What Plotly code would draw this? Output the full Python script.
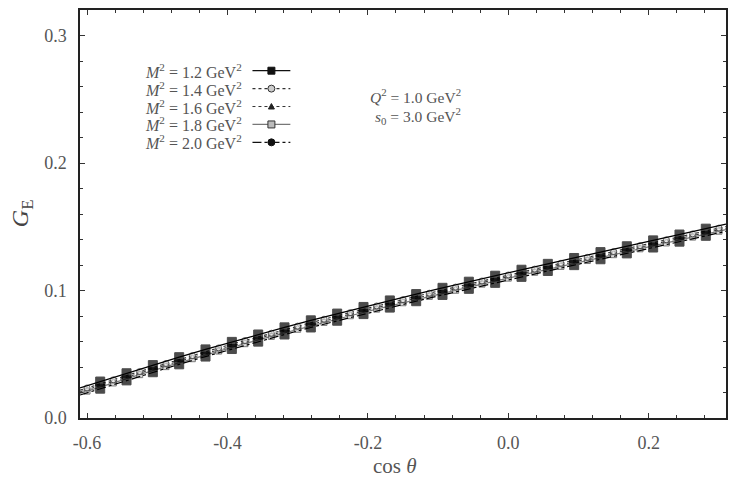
import plotly.graph_objects as go

# ---------------- data ----------------
labels = ["<i>M</i><sup>2</sup> = 1.2 GeV<sup>2</sup>",
          "<i>M</i><sup>2</sup> = 1.4 GeV<sup>2</sup>",
          "<i>M</i><sup>2</sup> = 1.6 GeV<sup>2</sup>",
          "<i>M</i><sup>2</sup> = 1.8 GeV<sup>2</sup>",
          "<i>M</i><sup>2</sup> = 2.0 GeV<sup>2</sup>"]

# cos(theta) sample points (series with black markers)
cos_a = [-0.61, -0.58125, -0.54375, -0.50625, -0.46875, -0.43125, -0.39375, -0.35625,
         -0.31875, -0.28125, -0.24375, -0.20625, -0.16875, -0.13125, -0.09375, -0.05625,
         -0.01875, 0.01875, 0.05625, 0.09375, 0.13125, 0.16875, 0.20625, 0.24375, 0.28125, 0.31]
# cos(theta) sample points (series with light markers)
cos_b = [-0.61, -0.6, -0.5625, -0.525, -0.4875, -0.45, -0.4125, -0.375, -0.3375, -0.3,
         -0.2625, -0.225, -0.1875, -0.15, -0.1125, -0.075, -0.0375, 0.0, 0.0375, 0.075,
         0.1125, 0.15, 0.1875, 0.225, 0.2625, 0.3, 0.31]

ge_12 = [0.0236, 0.0286, 0.0351, 0.0415, 0.0477, 0.0538, 0.0597, 0.0655, 0.0711, 0.0766,
         0.0819, 0.0871, 0.0922, 0.0972, 0.1021, 0.1069, 0.1116, 0.1163, 0.1209, 0.1255,
         0.1301, 0.1347, 0.1393, 0.1439, 0.1485, 0.1520]
ge_20 = [0.0180, 0.0230, 0.0295, 0.0359, 0.0421, 0.0482, 0.0541, 0.0599, 0.0655, 0.0710,
         0.0763, 0.0815, 0.0866, 0.0916, 0.0965, 0.1013, 0.1060, 0.1107, 0.1153, 0.1199,
         0.1245, 0.1291, 0.1337, 0.1383, 0.1429, 0.1464]
ge_14 = [0.0218, 0.0236, 0.0300, 0.0365, 0.0428, 0.0490, 0.0550, 0.0608, 0.0665, 0.0721,
         0.0775, 0.0827, 0.0879, 0.0929, 0.0979, 0.1027, 0.1075, 0.1122, 0.1168, 0.1214,
         0.1260, 0.1306, 0.1352, 0.1398, 0.1444, 0.1490, 0.1502]
ge_16 = [0.0205, 0.0223, 0.0287, 0.0352, 0.0415, 0.0477, 0.0537, 0.0595, 0.0652, 0.0708,
         0.0762, 0.0814, 0.0866, 0.0916, 0.0966, 0.1014, 0.1062, 0.1109, 0.1155, 0.1201,
         0.1247, 0.1293, 0.1339, 0.1385, 0.1431, 0.1477, 0.1489]
ge_18 = [0.0193, 0.0211, 0.0275, 0.0340, 0.0403, 0.0465, 0.0525, 0.0583, 0.0640, 0.0696,
         0.0750, 0.0802, 0.0854, 0.0904, 0.0954, 0.1002, 0.1050, 0.1097, 0.1143, 0.1189,
         0.1235, 0.1281, 0.1327, 0.1373, 0.1419, 0.1465, 0.1477]

x_ticks = [-0.6, -0.4, -0.2, 0.0, 0.2]
x_ticktext = ["-0.6", "-0.4", "-0.2", "0.0", "0.2"]
y_ticks = [0.0, 0.1, 0.2, 0.3]
y_ticktext = ["0.0", "0.1", "0.2", "0.3"]

# ---------------- styles ----------------
FONT = "Liberation Serif, serif"
styles = [
    dict(x=cos_b, y=ge_18, line=dict(color="#777", width=1.2, dash="solid"),
         marker=dict(symbol="square", size=6, color="#ccc", line=dict(color="#444", width=1))),
    dict(x=cos_b, y=ge_16, line=dict(color="#333", width=1.0, dash="dot"),
         marker=dict(symbol="triangle-up", size=5, color="#fff", line=dict(color="#333", width=1))),
    dict(x=cos_b, y=ge_14, line=dict(color="#333", width=1.2, dash="dot"),
         marker=dict(symbol="circle", size=6, color="#e6e6e6", line=dict(color="#444", width=1))),
    dict(x=cos_a, y=ge_20, line=dict(color="#000", width=1.2, dash="dashdot"),
         marker=dict(symbol="square", size=9, color="#000", line=dict(color="#000", width=1))),
    dict(x=cos_a, y=ge_12, line=dict(color="#000", width=1.3, dash="solid"),
         marker=dict(symbol="square", size=9, color="#000", line=dict(color="#000", width=1))),
]

fig = go.Figure()
for s in styles:
    n = len(s["x"])
    sizes = [0] + [s["marker"]["size"]] * (n - 2) + [0]
    mk = dict(s["marker"])
    mk["size"] = sizes
    fig.add_trace(go.Scatter(x=s["x"], y=s["y"], mode="lines+markers",
                             line=s["line"], marker=mk, showlegend=False,
                             cliponaxis=True))

axis_common = dict(showline=True, linecolor="#222", linewidth=1.5, mirror="ticks",
                   ticks="inside", ticklen=5, tickwidth=1, tickcolor="#333",
                   showgrid=False, zeroline=False,
                   tickfont=dict(family=FONT, size=18, color="#555"))

fig.update_xaxes(range=[-0.61, 0.31], tickmode="array", tickvals=x_ticks, ticktext=x_ticktext,
                 minor=dict(ticks="inside", ticklen=3, tickcolor="#333", dtick=0.04, tick0=-0.6,
                            showgrid=False),
                 ticklabelstandoff=8, **axis_common)
fig.update_yaxes(range=[0.0, 0.32], tickmode="array", tickvals=y_ticks, ticktext=y_ticktext,
                 minor=dict(ticks="inside", ticklen=3, tickcolor="#333", dtick=0.02, tick0=0,
                            showgrid=False),
                 ticklabelstandoff=8, **axis_common)

W, H = 736, 479
L, R, T, B = 80, 8, 8, 61
pw, ph = W - L - R, H - T - B


def px(xp):
    return (xp - L) / pw


def py(yp):
    return 1 - (yp - T) / ph


annotations = []
shapes = []
# legend (text left, sample right)
row_y = [69, 87, 105, 123, 141]
leg_styles = [
    dict(color="#111", dash="solid", sym="square", fill="#111", edge="#111", w=1.3),
    dict(color="#333", dash="dot", sym="circle", fill="#ccc", edge="#333", w=1.2),
    dict(color="#333", dash="dot", sym="triangle", fill="#222", edge="#222", w=1.0),
    dict(color="#777", dash="solid", sym="square", fill="#bbb", edge="#333", w=1.2),
    dict(color="#111", dash="dashdot", sym="circle", fill="#111", edge="#111", w=1.2),
]
for lab, yy, st in zip(labels, row_y, leg_styles):
    annotations.append(dict(x=px(245), y=py(yy), xref="paper", yref="paper", text=lab,
                            showarrow=False, xanchor="right", yanchor="middle",
                            font=dict(family=FONT, size=16, color="#555")))
    shapes.append(dict(type="line", xref="paper", yref="paper", x0=px(253), x1=px(291),
                       y0=py(yy), y1=py(yy), line=dict(color=st["color"], width=st["w"], dash=st["dash"])))
    cx, r = 272, 3.5
    if st["sym"] == "square":
        shapes.append(dict(type="rect", xref="paper", yref="paper", x0=px(cx - r), x1=px(cx + r),
                           y0=py(yy + r), y1=py(yy - r), fillcolor=st["fill"],
                           line=dict(color=st["edge"], width=1)))
    elif st["sym"] == "circle":
        shapes.append(dict(type="circle", xref="paper", yref="paper", x0=px(cx - r), x1=px(cx + r),
                           y0=py(yy + r), y1=py(yy - r), fillcolor=st["fill"],
                           line=dict(color=st["edge"], width=1)))
    else:
        path = "M {} {} L {} {} L {} {} Z".format(px(cx - 3), py(yy + 2.5), px(cx + 3), py(yy + 2.5),
                                                  px(cx), py(yy - 3))
        shapes.append(dict(type="path", xref="paper", yref="paper", path=path,
                           fillcolor=st["fill"], line=dict(color=st["edge"], width=1)))

annotations.append(dict(x=px(464), y=py(94), xref="paper", yref="paper",
                        text="<i>Q</i><sup>2</sup> = 1.0 GeV<sup>2</sup>", showarrow=False,
                        xanchor="right", yanchor="middle", font=dict(family=FONT, size=15.5, color="#555")))
annotations.append(dict(x=px(464), y=py(115), xref="paper", yref="paper",
                        text="<i>s</i><sub>0</sub> = 3.0 GeV<sup>2</sup>", showarrow=False,
                        xanchor="right", yanchor="middle", font=dict(family=FONT, size=15.5, color="#555")))
# axis titles
annotations.append(dict(x=px(396), y=py(466), xref="paper", yref="paper",
                        text="cos <i>θ</i>", showarrow=False, xanchor="center", yanchor="middle",
                        font=dict(family=FONT, size=21, color="#555")))
annotations.append(dict(x=px(22), y=py(212), xref="paper", yref="paper",
                        text="<i>G</i><sub>E</sub>", showarrow=False, textangle=-90,
                        xanchor="center", yanchor="middle",
                        font=dict(family=FONT, size=24, color="#444")))

fig.update_layout(width=W, height=H, margin=dict(l=L, r=R, t=T, b=B),
                  paper_bgcolor="white", plot_bgcolor="white",
                  font=dict(family=FONT),
                  annotations=annotations, shapes=shapes, showlegend=False)

fig.write_html("out.html")
